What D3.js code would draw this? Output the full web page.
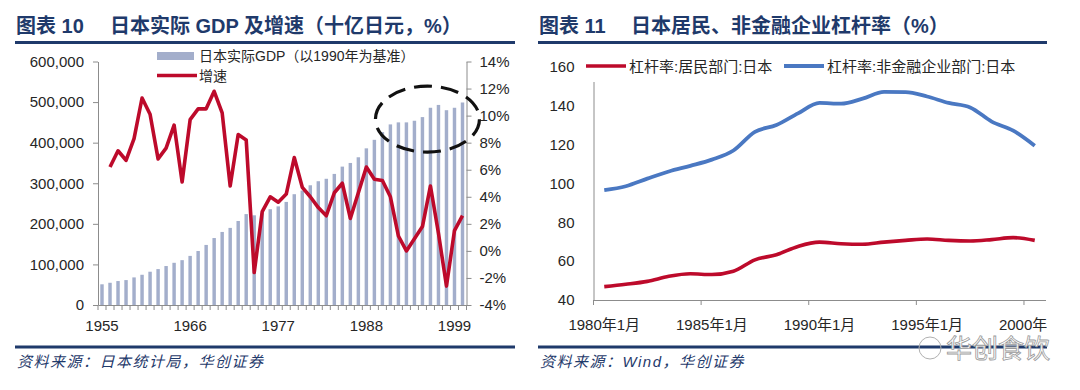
<!DOCTYPE html>
<html>
<head>
<meta charset="utf-8">
<script src="https://cdn.jsdelivr.net/npm/d3@7/dist/d3.min.js"></script>
<style>
  body { margin: 0; background: #fff; }
  text { font-family: "Liberation Sans", "Noto Sans CJK SC", sans-serif; }
</style>
</head>
<body>
<script>
// left chart: real GDP (bn yen, 1990 base) and growth (%)
const gdpYears = [1955, 1956, 1957, 1958, 1959, 1960, 1961, 1962, 1963, 1964, 1965, 1966,
  1967, 1968, 1969, 1970, 1971, 1972, 1973, 1974, 1975, 1976, 1977, 1978, 1979, 1980,
  1981, 1982, 1983, 1984, 1985, 1986, 1987, 1988, 1989, 1990, 1991, 1992, 1993, 1994,
  1995, 1996, 1997, 1998, 1999, 2000];
const gdp = [51000, 54800, 59000, 61400, 68000, 74500, 82000, 88500, 96000, 104000, 110500,
  121000, 133000, 148000, 165000, 180000, 190000, 207000, 224000, 221000, 227500, 236000,
  243000, 254000, 273000, 282000, 295000, 305000, 311000, 323000, 341000, 350000, 364000,
  386000, 407000, 426000, 445000, 450000, 450000, 454000, 463000, 486000, 493000, 480000,
  486000, 499000];
const growthYears = gdpYears.slice(1);
const growth = [6.2, 7.4, 6.7, 8.3, 11.3, 10.1, 6.8, 7.6, 9.3, 5.1, 9.7, 10.5, 10.5, 11.8,
  10.2, 4.8, 8.6, 8.2, -1.6, 2.9, 4.0, 3.6, 4.2, 6.9, 4.7, 4.0, 3.2, 2.6, 4.3, 5.0, 2.4,
  4.3, 6.2, 5.3, 5.2, 4.0, 1.1, 0.0, 0.9, 1.8, 4.8, 1.3, -2.6, 1.5, 2.6];
const leftYTicks = [0, 100000, 200000, 300000, 400000, 500000, 600000];
const rightYTicks = [-4, -2, 0, 2, 4, 6, 8, 10, 12, 14];
const leftXLabels = [1955, 1966, 1977, 1988, 1999];

// right chart: leverage (%)
const levCats = ["1980年1月", "1981年1月", "1982年1月", "1983年1月", "1984年1月", "1985年1月",
  "1986年1月", "1987年1月", "1988年1月", "1989年1月", "1990年1月", "1991年1月", "1992年1月",
  "1993年1月", "1994年1月", "1995年1月", "1996年1月", "1997年1月", "1998年1月", "1999年1月",
  "2000年1月"];
const household = [46.9, 48.1, 49.6, 52.2, 53.5, 53.1, 54.8, 60.7, 63.3, 67.6, 69.8, 69.0,
  68.7, 69.8, 70.7, 71.4, 70.7, 70.4, 71.1, 72.1, 70.7];
const corporate = [96.6, 98.6, 102.5, 106.2, 109.1, 112.3, 117.0, 126.6, 130.1, 136.1, 141.5,
  141.1, 143.7, 147.2, 147.1, 144.8, 141.5, 139.2, 131.9, 127.2, 119.4];
const levYTicks = [40, 60, 80, 100, 120, 140, 160];
const levXLabels = ["1980年1月", "1985年1月", "1990年1月", "1995年1月", "2000年1月"];

const navy = "#1f3a6b";
const red = "#bd0a2b";
const blue = "#4a78c2";
const barColor = "#a3aecb";
const axisColor = "#8c8c8c";
const textColor = "#262626";

const svg = d3.select("body").append("svg")
  .attr("width", 1080)
  .attr("height", 390);

// ---- titles and rules ----
function header(x0, x1, num, title, titleX) {
  svg.append("text").attr("x", x0 + 1).attr("y", 33)
    .attr("fill", navy).attr("font-size", 20).attr("font-weight", "bold")
    .text("图表 " + num);
  svg.append("text").attr("x", titleX).attr("y", 33)
    .attr("fill", navy).attr("font-size", 20).attr("font-weight", "bold")
    .text(title);
  svg.append("line").attr("x1", x0).attr("x2", x1).attr("y1", 42.5).attr("y2", 42.5)
    .attr("stroke", navy).attr("stroke-width", 3);
}
header(15, 515, "10", "日本实际 GDP 及增速（十亿日元，%）", 110);
header(538, 1047, "11", "日本居民、非金融企业杠杆率（%）", 631);

function footer(x0, x1, txt) {
  svg.append("line").attr("x1", x0).attr("x2", x1).attr("y1", 347).attr("y2", 347)
    .attr("stroke", navy).attr("stroke-width", 3);
  svg.append("text").attr("x", x0 + 2).attr("y", 367)
    .attr("fill", navy).attr("font-size", 15).attr("font-style", "italic")
    .attr("letter-spacing", 1.5)
    .text(txt);
}
footer(15, 515, "资料来源：日本统计局，华创证券");
footer(538, 1047, "资料来源：Wind，华创证券");

// ---- left chart ----
const x = d3.scaleBand().domain(gdpYears).range([98, 466.5]);
const yL = d3.scaleLinear().domain([0, 600000]).range([305, 61.5]);
const yR = d3.scaleLinear().domain([-4, 14]).range([305, 61.5]);
const bw = x.bandwidth() * 0.43;

svg.append("g").selectAll("rect")
  .data(gdp)
  .enter()
  .append("rect")
  .attr("x", (d, i) => x(gdpYears[i]) + (x.bandwidth() - bw) / 2)
  .attr("y", d => yL(d))
  .attr("width", bw)
  .attr("height", d => yL(0) - yL(d))
  .attr("fill", barColor);

function styleAxis(g) {
  g.select(".domain").attr("stroke", axisColor);
  g.selectAll(".tick line").attr("stroke", axisColor);
  g.selectAll(".tick text").attr("fill", textColor).attr("font-size", 15)
    .attr("font-family", "Liberation Sans, Noto Sans CJK SC, sans-serif");
}

svg.append("g").attr("transform", "translate(98,0)")
  .call(d3.axisLeft(yL).tickValues(leftYTicks).tickSize(5).tickPadding(9)
    .tickSizeOuter(0).tickFormat(d3.format(",")))
  .call(styleAxis);

svg.append("g").attr("transform", "translate(466.5,0)")
  .call(d3.axisRight(yR).tickValues(rightYTicks).tickSize(5).tickPadding(8)
    .tickSizeOuter(0).tickFormat(d => d + "%"))
  .call(styleAxis);

svg.append("g").attr("transform", "translate(0,305)")
  .call(d3.axisBottom(x).tickValues(leftXLabels).tickSize(0).tickPadding(15))
  .call(styleAxis);

// category boundary ticks
svg.append("g").selectAll("line")
  .data(gdpYears.concat([null]))
  .enter()
  .append("line")
  .attr("x1", d => d === null ? x.range()[1] : x(d))
  .attr("x2", d => d === null ? x.range()[1] : x(d))
  .attr("y1", 305).attr("y2", 310)
  .attr("stroke", axisColor);

const lineL = d3.line()
  .x((d, i) => x(growthYears[i]) + x.bandwidth() / 2)
  .y(d => yR(d));

svg.append("path")
  .datum(growth)
  .attr("d", lineL)
  .attr("fill", "none")
  .attr("stroke", red)
  .attr("stroke-width", 3.6)
  .attr("stroke-linejoin", "round");

// dashed highlight around the 1990s plateau
svg.append("ellipse")
  .attr("cx", x(1996) + x.bandwidth() / 2 - 3)
  .attr("cy", yL(458000))
  .attr("rx", 52).attr("ry", 33)
  .attr("fill", "none")
  .attr("stroke", "#111")
  .attr("stroke-width", 3.2)
  .attr("stroke-dasharray", "18 9");

// legend
svg.append("rect").attr("x", 157).attr("y", 52).attr("width", 37).attr("height", 8)
  .attr("fill", barColor);
svg.append("text").attr("x", 199).attr("y", 61).attr("font-size", 14).attr("fill", textColor)
  .text("日本实际GDP（以1990年为基准）");
svg.append("line").attr("x1", 157).attr("x2", 197).attr("y1", 75.5).attr("y2", 75.5)
  .attr("stroke", red).attr("stroke-width", 3.6);
svg.append("text").attr("x", 199).attr("y", 80.5).attr("font-size", 14).attr("fill", textColor)
  .text("增速");

// ---- right chart ----
const x2 = d3.scaleBand().domain(levCats).range([593.5, 1045.5]);
const y2 = d3.scaleLinear().domain([40, 160]).range([300, 67]);

svg.append("g").attr("transform", "translate(593.5,0)")
  .call(d3.axisLeft(y2).tickValues(levYTicks).tickSize(0).tickPadding(19).tickSizeOuter(0))
  .call(styleAxis);

svg.append("defs").append("clipPath").attr("id", "clipR")
  .append("rect").attr("x", 540).attr("y", 0).attr("width", 507).attr("height", 390);

svg.append("g").attr("transform", "translate(0,300)")
  .attr("clip-path", "url(#clipR)")
  .call(d3.axisBottom(x2).tickValues(levXLabels).tickSize(0).tickPadding(19).tickSizeOuter(0))
  .call(styleAxis);

svg.append("g").selectAll("line")
  .data(levXLabels)
  .enter()
  .append("line")
  .attr("x1", d => x2(d)).attr("x2", d => x2(d))
  .attr("y1", 300).attr("y2", 305)
  .attr("stroke", axisColor);

const line2 = d3.line()
  .x((d, i) => x2(levCats[i]) + x2.bandwidth() / 2)
  .y(d => y2(d))
  .curve(d3.curveMonotoneX);

svg.append("path").datum(household).attr("d", line2)
  .attr("fill", "none").attr("stroke", red).attr("stroke-width", 3.6)
  .attr("stroke-linejoin", "round");
svg.append("path").datum(corporate).attr("d", line2)
  .attr("fill", "none").attr("stroke", blue).attr("stroke-width", 3.8)
  .attr("stroke-linejoin", "round");

// legend (white box over axis top)
svg.append("rect").attr("x", 583).attr("y", 54).attr("width", 445).attr("height", 28)
  .attr("fill", "#fff");
svg.append("line").attr("x1", 586).attr("x2", 626).attr("y1", 66).attr("y2", 66)
  .attr("stroke", red).attr("stroke-width", 3.6);
svg.append("text").attr("x", 629).attr("y", 71.5).attr("font-size", 15).attr("fill", textColor)
  .text("杠杆率:居民部门:日本");
svg.append("line").attr("x1", 784).attr("x2", 824).attr("y1", 66).attr("y2", 66)
  .attr("stroke", blue).attr("stroke-width", 3.8);
svg.append("text").attr("x", 827).attr("y", 71.5).attr("font-size", 15).attr("fill", textColor)
  .text("杠杆率:非金融企业部门:日本");

// watermark
svg.append("circle").attr("cx", 930).attr("cy", 348).attr("r", 11)
  .attr("fill", "none").attr("stroke", "#b0b0b0").attr("stroke-width", 1);
svg.append("text").attr("x", 946).attr("y", 358).attr("font-size", 26)
  .attr("fill", "#fff").attr("stroke", "#9a9a9a").attr("stroke-width", 0.8)
  .text("华创食饮");
</script>
</body>
</html>
